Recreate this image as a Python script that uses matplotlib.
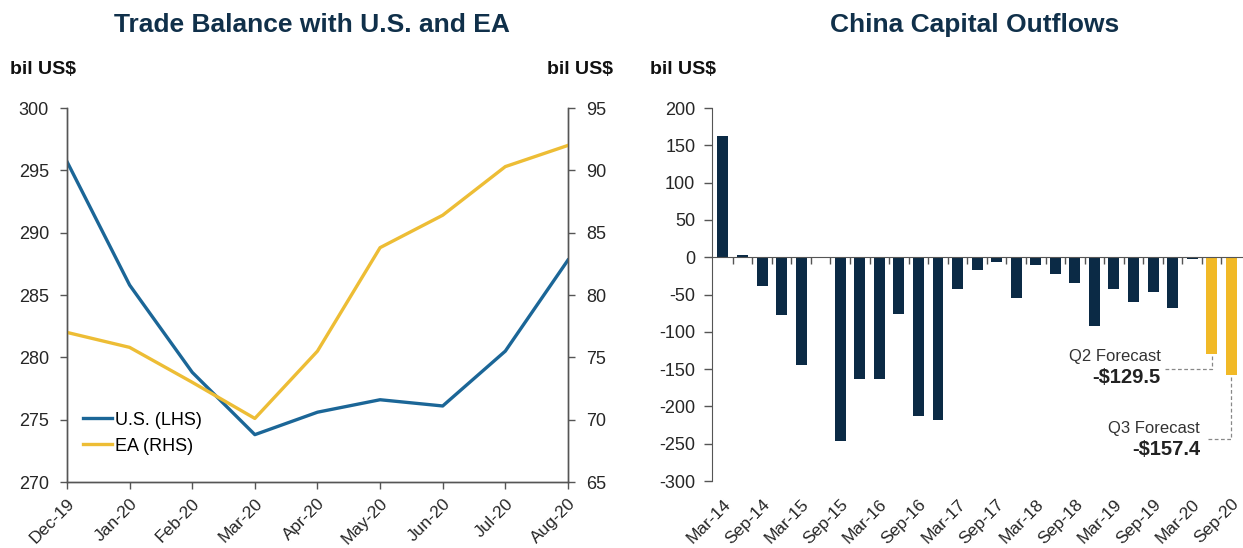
import numpy as np
import matplotlib.pyplot as plt

plt.rcParams['font.family'] = ['Liberation Sans Narrow', 'Liberation Sans', 'DejaVu Sans']
plt.rcParams['axes.unicode_minus'] = False

# left panel: trade balance
months = ['Dec-19', 'Jan-20', 'Feb-20', 'Mar-20', 'Apr-20', 'May-20', 'Jun-20', 'Jul-20', 'Aug-20']
us_balance = [295.7, 285.8, 278.8, 273.8, 275.6, 276.6, 276.1, 280.5, 287.8]
ea_balance = [77.0, 75.8, 73.0, 70.1, 75.5, 83.8, 86.4, 90.3, 92.0]

# right panel: capital outflows, quarterly Mar-14 .. Sep-20
quarters = ['Mar-14', 'Jun-14', 'Sep-14', 'Dec-14', 'Mar-15', 'Jun-15', 'Sep-15', 'Dec-15',
            'Mar-16', 'Jun-16', 'Sep-16', 'Dec-16', 'Mar-17', 'Jun-17', 'Sep-17', 'Dec-17',
            'Mar-18', 'Jun-18', 'Sep-18', 'Dec-18', 'Mar-19', 'Jun-19', 'Sep-19', 'Dec-19',
            'Mar-20', 'Jun-20', 'Sep-20']
outflows = [163, 3, -39, -78, -144, 0, -247, -163, -163, -76, -213, -218, -42, -17, -6, -55,
            -10, -22, -35, -92, -42, -60, -47, -68, -3, -129.5, -157.4]
is_forecast = [False] * 25 + [True, True]

BLUE = '#1b6697'
YELLOW = '#edbd35'
NAVY = '#0b2a45'
GOLD = '#f1b927'
TITLE = '#10304a'
SPINE = '#555555'
LABEL = '#262626'

fig = plt.figure(figsize=(12.43, 5.48), dpi=100)

# ---------------- left chart ----------------
ax = fig.add_axes([0.0539, 0.1204, 0.403, 0.6825])
x = np.arange(len(months))
ax.plot(x, us_balance, color=BLUE, lw=2.4, label='U.S. (LHS)')
ax.set_xlim(0, len(months) - 1)
ax.set_ylim(270, 300)
ax.set_yticks(np.arange(270, 301, 5))
ax.set_xticks(x)
ax.set_xticklabels(months, rotation=45, ha='right', va='top', rotation_mode='anchor')

axr = ax.twinx()
axr.plot(x, ea_balance, color=YELLOW, lw=2.4, label='EA (RHS)')
axr.set_ylim(65, 95)
axr.set_yticks(np.arange(65, 96, 5))

for a in (ax, axr):
    a.spines['top'].set_visible(False)
    for s in ('left', 'right', 'bottom'):
        a.spines[s].set_color(SPINE)
        a.spines[s].set_linewidth(1.0)
    a.tick_params(direction='out', length=5, width=1, color=SPINE, labelsize=13,
                  labelcolor=LABEL, pad=8)
ax.tick_params(axis='x', pad=5, labelsize=12.5)

h1, l1 = ax.get_legend_handles_labels()
h2, l2 = axr.get_legend_handles_labels()
ax.legend(h1 + h2, l1 + l2, loc='lower left', bbox_to_anchor=(0.0, 0.03), frameon=False,
          fontsize=13, handlelength=1.6, handletextpad=0.15, labelspacing=0.5)

fig.text(312 / 1243, 1 - 25 / 548, 'Trade Balance with U.S. and EA', ha='center', va='center',
         fontsize=19, fontweight='bold', color=TITLE)
fig.text(10 / 1243, 1 - 70 / 548, 'bil US$', ha='left', va='center', fontsize=14,
         fontweight='bold', color='#111111')
fig.text(613 / 1243, 1 - 70 / 548, 'bil US$', ha='right', va='center', fontsize=14,
         fontweight='bold', color='#111111')

# ---------------- right chart ----------------
bx = fig.add_axes([0.5728, 0.1222, 0.4272, 0.6807])
q = np.arange(len(quarters))
colors = [GOLD if f else NAVY for f in is_forecast]
bx.bar(q, outflows, width=0.56, color=colors)
bx.set_xlim(-0.56, len(quarters) - 0.4)
bx.set_ylim(-300, 200)
bx.set_yticks(np.arange(-300, 201, 50))
bx.set_xticks(q[::2])
bx.set_xticklabels(quarters[::2], rotation=45, ha='right', va='top', rotation_mode='anchor')
bx.tick_params(axis='x', length=0, pad=11, labelsize=12.5, labelcolor=LABEL)
bx.tick_params(axis='y', direction='out', length=6, width=1, color=SPINE, labelsize=13,
               labelcolor=LABEL, pad=6)
for s in ('top', 'right', 'bottom'):
    bx.spines[s].set_visible(False)
bx.spines['left'].set_color(SPINE)

# zero line with category ticks
zx = bx.twiny()
zx.set_xlim(bx.get_xlim())
zx.xaxis.set_ticks_position('bottom')
zx.spines['bottom'].set_position(('data', 0))
zx.spines['bottom'].set_color(SPINE)
for s in ('top', 'right', 'left'):
    zx.spines[s].set_visible(False)
zx.set_xticks(q[:-1] + 0.5)
zx.set_xticklabels([])
zx.tick_params(axis='x', direction='out', length=5, width=1, color=SPINE)

# forecast annotations
q2, q3 = len(quarters) - 2, len(quarters) - 1
bx.plot([22.6, q2, q2], [-150, -150, outflows[q2]], ls=(0, (3, 2)), color='#888888', lw=0.9)
bx.plot([24.8, q3, q3], [-243, -243, outflows[q3]], ls=(0, (3, 2)), color='#888888', lw=0.9)
bx.text(22.4, -133, 'Q2 Forecast', ha='right', va='center', fontsize=12, color='#333333')
bx.text(22.4, -161, '-$%.1f' % abs(outflows[q2]), ha='right', va='center', fontsize=14.5,
        fontweight='bold', color='#222222')
bx.text(24.4, -229, 'Q3 Forecast', ha='right', va='center', fontsize=12, color='#333333')
bx.text(24.4, -258, '-$%.1f' % abs(outflows[q3]), ha='right', va='center', fontsize=14.5,
        fontweight='bold', color='#222222')

fig.text(975 / 1243, 1 - 25 / 548, 'China Capital Outflows', ha='center', va='center',
         fontsize=19, fontweight='bold', color=TITLE)
fig.text(650 / 1243, 1 - 70 / 548, 'bil US$', ha='left', va='center', fontsize=14,
         fontweight='bold', color='#111111')

fig.savefig('out.png', dpi=100)
